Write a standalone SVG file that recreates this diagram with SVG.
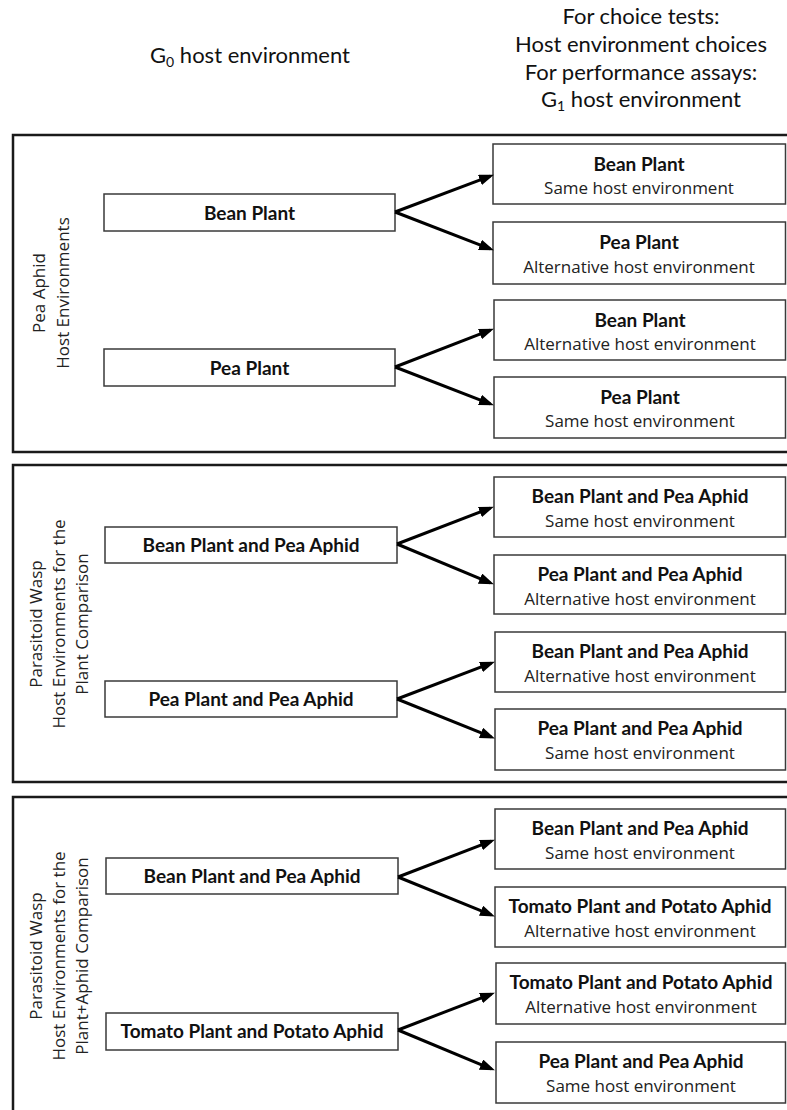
<svg xmlns="http://www.w3.org/2000/svg" width="787" height="1110" viewBox="0 0 787 1110">
<style>
.panel{fill:none;stroke:#1a1a1a;stroke-width:2.5}
.box{fill:#fff;stroke:#3a3a3a;stroke-width:1.5}
.hdr{font-family:Lato,"Liberation Sans",sans-serif;font-size:22px;fill:#111;text-anchor:middle}
.sub{font-size:14px}
.vl{font-family:"Open Sans","Liberation Sans",sans-serif;font-size:17px;fill:#222;text-anchor:middle}
.t{font-family:Lato,"Liberation Sans",sans-serif;font-weight:bold;font-size:19px;fill:#111;text-anchor:middle}
.s{font-family:"Open Sans","Liberation Sans",sans-serif;font-size:17px;fill:#222;text-anchor:middle}
.arr{fill:none;stroke:#000;stroke-width:3;marker-end:url(#ah)}
</style>
<defs>
<marker id="ah" markerUnits="userSpaceOnUse" markerWidth="15" markerHeight="11" refX="11" refY="5.5" orient="auto">
<path d="M0,0 L15,5.5 L0,11 Z" fill="#000"/>
</marker>
</defs>
<rect width="787" height="1110" fill="#fff"/>
<g id="header">
<text class="hdr" x="250" y="63">G<tspan class="sub" dy="4">0</tspan><tspan dy="-4"> host environment</tspan></text>
<text class="hdr" x="641" y="24">For choice tests:</text>
<text class="hdr" x="641" y="52">Host environment choices</text>
<text class="hdr" x="641" y="80">For performance assays:</text>
<text class="hdr" x="641" y="107">G<tspan class="sub" dy="4">1</tspan><tspan dy="-4"> host environment</tspan></text>
</g>
<g id="panel1">
<rect class="panel" x="13" y="135" width="800" height="317"/>
<text class="vl" transform="translate(45,293) rotate(-90)">Pea Aphid</text>
<text class="vl" transform="translate(69,293) rotate(-90)">Host Environments</text>
</g>
<g id="panel2">
<rect class="panel" x="13" y="465" width="800" height="317"/>
<text class="vl" transform="translate(42,624) rotate(-90)">Parasitoid Wasp</text>
<text class="vl" transform="translate(65,624) rotate(-90)">Host Environments  for the</text>
<text class="vl" transform="translate(88,624) rotate(-90)">Plant Comparison</text>
</g>
<g id="panel3">
<rect class="panel" x="13" y="797" width="800" height="340"/>
<text class="vl" transform="translate(42,956) rotate(-90)">Parasitoid Wasp</text>
<text class="vl" transform="translate(65,956) rotate(-90)">Host Environments  for the</text>
<text class="vl" transform="translate(88,956) rotate(-90)">Plant+Aphid  Comparison</text>
</g>
<g id="p1-bean"><rect class="box" x="104" y="194" width="291" height="37"/><text class="t" x="249.5" y="219.5">Bean Plant</text></g>
<g id="p1-pea"><rect class="box" x="104" y="349" width="291" height="37"/><text class="t" x="249.5" y="374.5">Pea Plant</text></g>
<g id="p1-r1"><rect class="box" x="493" y="144" width="292.5" height="60"/><text class="t" x="639" y="171">Bean Plant</text><text class="s" x="639" y="194">Same host environment</text></g>
<g id="p1-r2"><rect class="box" x="493" y="222" width="292.5" height="62"/><text class="t" x="639" y="249">Pea Plant</text><text class="s" x="639" y="273">Alternative host environment</text></g>
<g id="p1-r3"><rect class="box" x="494" y="300" width="291.5" height="60"/><text class="t" x="640" y="327">Bean Plant</text><text class="s" x="640" y="350">Alternative host environment</text></g>
<g id="p1-r4"><rect class="box" x="494" y="377" width="291.5" height="61"/><text class="t" x="640" y="404">Pea Plant</text><text class="s" x="640" y="427">Same host environment</text></g>
<g id="p2-bean"><rect class="box" x="105" y="527" width="292" height="36"/><text class="t" x="251" y="552">Bean Plant and Pea Aphid</text></g>
<g id="p2-pea"><rect class="box" x="105" y="681" width="292" height="36"/><text class="t" x="251" y="706">Pea Plant and Pea Aphid</text></g>
<g id="p2-r1"><rect class="box" x="494" y="477" width="291.5" height="60"/><text class="t" x="640" y="503">Bean Plant and Pea Aphid</text><text class="s" x="640" y="527">Same host environment</text></g>
<g id="p2-r2"><rect class="box" x="494" y="555" width="291.5" height="59"/><text class="t" x="640" y="581">Pea Plant and Pea Aphid</text><text class="s" x="640" y="605">Alternative host environment</text></g>
<g id="p2-r3"><rect class="box" x="495" y="632" width="290.5" height="60"/><text class="t" x="640" y="658">Bean Plant and Pea Aphid</text><text class="s" x="640" y="682">Alternative host environment</text></g>
<g id="p2-r4"><rect class="box" x="495" y="709" width="290.5" height="61"/><text class="t" x="640" y="735">Pea Plant and Pea Aphid</text><text class="s" x="640" y="759">Same host environment</text></g>
<g id="p3-bean"><rect class="box" x="106" y="858" width="292" height="36"/><text class="t" x="252" y="883">Bean Plant and Pea Aphid</text></g>
<g id="p3-tomato"><rect class="box" x="106" y="1013" width="292" height="37"/><text class="t" x="252" y="1038">Tomato Plant and Potato Aphid</text></g>
<g id="p3-r1"><rect class="box" x="495" y="809" width="290.5" height="60"/><text class="t" x="640" y="835">Bean Plant and Pea Aphid</text><text class="s" x="640" y="859">Same host environment</text></g>
<g id="p3-r2"><rect class="box" x="495" y="887" width="290.5" height="60"/><text class="t" x="640" y="913">Tomato Plant and Potato Aphid</text><text class="s" x="640" y="937">Alternative host environment</text></g>
<g id="p3-r3"><rect class="box" x="496" y="963" width="289.5" height="61"/><text class="t" x="641" y="989">Tomato Plant and Potato Aphid</text><text class="s" x="641" y="1013">Alternative host environment</text></g>
<g id="p3-r4"><rect class="box" x="496" y="1042" width="289.5" height="61"/><text class="t" x="641" y="1068">Pea Plant and Pea Aphid</text><text class="s" x="641" y="1092">Same host environment</text></g>
<g id="connectors">
<path class="arr" d="M395,212 L490.2,176.1"/>
<path class="arr" d="M395,212 L490.2,248.9"/>
<path class="arr" d="M395,367 L490.2,330.1"/>
<path class="arr" d="M395,367 L490.2,403.9"/>
<path class="arr" d="M397,544 L490.2,508.1"/>
<path class="arr" d="M397,544 L490.2,582.8"/>
<path class="arr" d="M397,699 L491.2,663.1"/>
<path class="arr" d="M397,699 L491.2,736.9"/>
<path class="arr" d="M398,877 L491.2,841.1"/>
<path class="arr" d="M398,877 L491.2,914.9"/>
<path class="arr" d="M398,1030 L491.2,994.1"/>
<path class="arr" d="M398,1030 L491.2,1068.8"/>
</g>
</svg>
